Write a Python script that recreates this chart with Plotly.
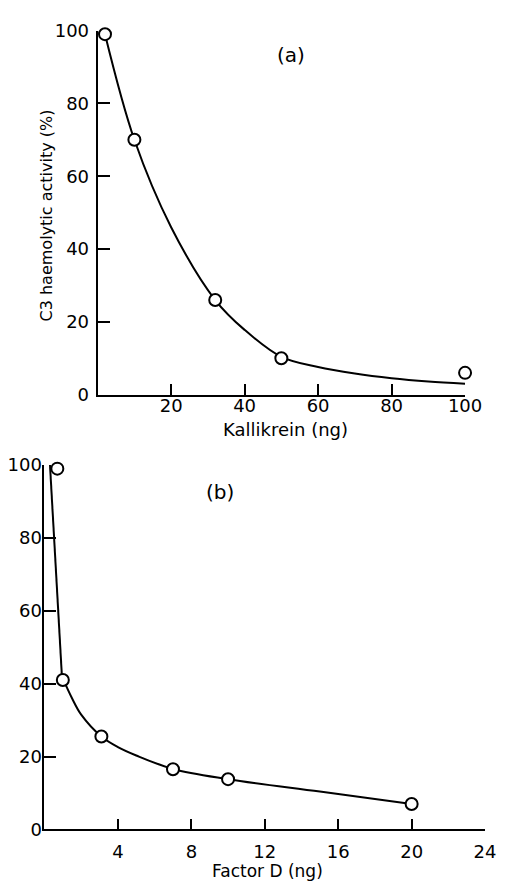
import plotly.graph_objects as go

W, H = 513, 887

# ---- Panel (a): Kallikrein ----
kal_x = [2, 10, 32, 50, 100]
kal_y = [99, 70, 26, 10, 6]
kal_curve_x = [2, 10, 20, 32, 40, 50, 60, 70, 80, 90, 100]
kal_curve_y = [99, 70, 46, 26, 17.8, 10.4, 7.6, 5.8, 4.5, 3.6, 3.0]

# ---- Panel (b): Factor D ----
fd_x = [0.7, 1.0, 3.1, 7.0, 10.0, 20.0]
fd_y = [99, 41, 25.5, 16.5, 13.8, 7.0]
fd_steep_x = [0.3, 0.95]
fd_steep_y = [100, 42]
fd_curve_x = [0.95, 1.5, 2, 3.1, 4, 5, 7, 10, 15, 20]
fd_curve_y = [42, 36, 31.5, 25.5, 22.6, 20.3, 16.6, 13.8, 10.4, 7.0]

a_xticks = [20, 40, 60, 80, 100]
b_xticks = [4, 8, 12, 16, 20, 24]
y_ticks = [0, 20, 40, 60, 80, 100]

FONT = "DejaVu Sans"
line_style = dict(color="black", width=2)
marker_style = dict(symbol="circle", size=12, color="white",
                    line=dict(color="black", width=2))

fig = go.Figure()
fig.add_trace(go.Scatter(x=kal_curve_x, y=kal_curve_y, mode="lines",
                         line=dict(shape="spline", smoothing=1.0, **line_style),
                         xaxis="x", yaxis="y", cliponaxis=False, showlegend=False))
fig.add_trace(go.Scatter(x=kal_x, y=kal_y, mode="markers", marker=marker_style,
                         xaxis="x", yaxis="y", cliponaxis=False, showlegend=False))
fig.add_trace(go.Scatter(x=fd_steep_x, y=fd_steep_y, mode="lines", line=line_style,
                         xaxis="x2", yaxis="y2", cliponaxis=False, showlegend=False))
fig.add_trace(go.Scatter(x=fd_curve_x, y=fd_curve_y, mode="lines",
                         line=dict(shape="spline", smoothing=1.0, **line_style),
                         xaxis="x2", yaxis="y2", cliponaxis=False, showlegend=False))
fig.add_trace(go.Scatter(x=fd_x, y=fd_y, mode="markers", marker=marker_style,
                         xaxis="x2", yaxis="y2", cliponaxis=False, showlegend=False))

def px_x(p):
    return p / W

def px_y(p):
    return 1 - p / H

common = dict(showline=True, linecolor="black", linewidth=2, ticks="inside",
              tickcolor="black", tickwidth=2, showgrid=False, zeroline=False,
              tickfont=dict(family=FONT, size=18, color="black"), mirror=False)

fig.update_layout(
    width=W, height=H,
    margin=dict(l=0, r=0, t=0, b=0),
    paper_bgcolor="white", plot_bgcolor="white",
    font=dict(family=FONT, color="black"),
    xaxis=dict(domain=[px_x(101), px_x(481)], range=[0, 100], tickvals=a_xticks,
               ticklen=11, anchor="y", ticklabelstandoff=-6, **common),
    yaxis=dict(domain=[px_y(393), px_y(20)], range=[0, 100], tickvals=y_ticks,
               ticklen=12, anchor="x", ticklabelstandoff=3, **common),
    xaxis2=dict(domain=[px_x(46), px_x(501.7)], range=[0, 24], tickvals=b_xticks,
                ticklen=10, anchor="y2", ticklabelstandoff=5, **common),
    yaxis2=dict(domain=[px_y(838.3), px_y(465)], range=[0, 100], tickvals=y_ticks,
                ticklen=12, anchor="x2", ticklabelstandoff=-3, **common),
    annotations=[
        dict(text="(a)", x=px_x(301), y=px_y(45), xref="paper", yref="paper",
             xanchor="center", yanchor="middle",
             showarrow=False, font=dict(family=FONT, size=20)),
        dict(text="(b)", x=px_x(228), y=px_y(493), xref="paper", yref="paper",
             xanchor="center", yanchor="middle",
             showarrow=False, font=dict(family=FONT, size=20)),
        dict(text="Kallikrein (ng)", x=px_x(295), y=px_y(429), xref="paper", yref="paper",
             xanchor="center", yanchor="middle",
             showarrow=False, font=dict(family=FONT, size=18)),
        dict(text="Factor D (ng)", x=px_x(277), y=px_y(869), xref="paper", yref="paper",
             xanchor="center", yanchor="top",
             showarrow=False, font=dict(family=FONT, size=17)),
        dict(text="C3 haemolytic activity (%)", x=px_x(48), y=px_y(209), xref="paper",
             yref="paper", xanchor="center", yanchor="middle",
             showarrow=False, textangle=-90, font=dict(family=FONT, size=16)),
    ],
)

fig.write_html("out.html")
